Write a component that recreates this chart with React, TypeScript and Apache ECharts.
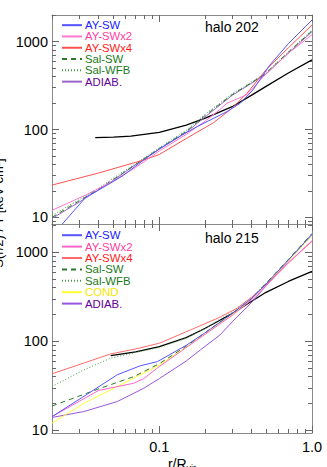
import React, { useEffect, useRef } from 'react';
import * as echarts from 'echarts';

const FONT = "'Liberation Sans', Arial, Helvetica, sans-serif";

// x range (r / R_vir) and y ranges of the two panels
const X_RANGE = [0.0198, 1.0];
const Y_RANGE_TOP = [8.4, 2014];
const Y_RANGE_BOT = [9.3, 2080];

const X_MAJOR = [0.1, 1];
const X_MINOR = [0.02, 0.03, 0.04, 0.05, 0.06, 0.07, 0.08, 0.09, 0.2, 0.3, 0.4, 0.5, 0.6, 0.7, 0.8, 0.9];
const Y_MAJOR = [10, 100, 1000];
const Y_MINOR = [9, 20, 30, 40, 50, 60, 70, 80, 90, 200, 300, 400, 500, 600, 700, 800, 900, 2000];

const TOP_LABEL = 'halo 202';
const BOT_LABEL = 'halo 215';

// ---- halo 202 (top panel) ----
const TOP_AYSW = [[0.023, 8.3], [0.033, 17], [0.045, 23], [0.058, 30], [0.079, 45], [0.1, 60], [0.14, 86], [0.177, 108], [0.277, 160], [0.339, 199], [0.41, 282], [0.53, 543], [0.7, 950], [1.0, 1766]];
const TOP_AYSWX2 = [[0.0198, 12], [0.033, 18], [0.05, 26], [0.07, 37], [0.1, 57], [0.15, 88], [0.2, 125], [0.25, 170], [0.277, 199], [0.376, 250], [0.48, 400], [0.7, 740], [1.0, 1200]];
const TOP_AYSWX4 = [[0.0198, 23.3], [0.04, 32], [0.079, 45], [0.1, 52], [0.15, 79], [0.227, 120], [0.3, 175], [0.376, 260], [0.5, 480], [0.7, 850], [1.0, 1550]];
const TOP_SALSW = [[0.0198, 10], [0.03, 15.5], [0.04, 21], [0.05, 27], [0.07, 40], [0.1, 61], [0.15, 95], [0.2, 145], [0.3, 250], [0.4, 340], [0.5, 440], [0.7, 760], [1.0, 1330]];
const TOP_SALWFB = [[0.0198, 10.5], [0.03, 16], [0.04, 21.5], [0.05, 28], [0.07, 41], [0.1, 62], [0.15, 98], [0.2, 150], [0.3, 255], [0.4, 345], [0.5, 445], [0.7, 770], [1.0, 1350]];
const TOP_ADIAB = [[0.0198, 9.7], [0.03, 15], [0.04, 20.5], [0.05, 26.5], [0.07, 40], [0.1, 60], [0.15, 93], [0.2, 140], [0.3, 245], [0.4, 335], [0.5, 430], [0.7, 740], [1.0, 1300]];
const TOP_MODEL = [[0.038, 81], [0.05, 82], [0.065, 84], [0.1, 93], [0.15, 112], [0.2, 135], [0.3, 182], [0.4, 245], [0.5, 310], [0.7, 440], [1.0, 620]];

// ---- halo 215 (bottom panel) ----
const BOT_AYSW = [[0.0198, 14.2], [0.032, 24], [0.053, 42], [0.075, 53], [0.097, 59], [0.15, 90], [0.2, 125], [0.3, 205], [0.4, 300], [0.5, 440], [0.7, 820], [1.0, 1600]];
const BOT_AYSWX2 = [[0.0198, 14.2], [0.04, 28], [0.068, 33.7], [0.079, 38], [0.1, 52], [0.15, 85], [0.2, 120], [0.3, 195], [0.4, 290], [0.5, 420], [0.7, 760], [1.0, 1350]];
const BOT_AYSWX4 = [[0.0198, 43], [0.048, 72], [0.07, 82], [0.1, 95], [0.16, 134], [0.24, 181], [0.323, 235], [0.4, 310], [0.5, 430], [0.7, 760], [1.0, 1330]];
const BOT_SALSW = [[0.0198, 18.7], [0.041, 29.6], [0.068, 40], [0.1, 56], [0.15, 88], [0.2, 125], [0.3, 205], [0.4, 300], [0.5, 450], [0.7, 830], [1.0, 1630]];
const BOT_SALWFB = [[0.0198, 31], [0.032, 47.6], [0.048, 64.5], [0.068, 74], [0.1, 85], [0.15, 108], [0.2, 140], [0.3, 215], [0.4, 310], [0.5, 450], [0.7, 820], [1.0, 1560]];
const BOT_COND = [[0.0198, 12], [0.032, 20], [0.053, 31], [0.1, 54], [0.15, 86], [0.2, 122], [0.3, 200], [0.4, 295], [0.5, 440], [0.7, 800], [1.0, 1550]];
const BOT_ADIAB = [[0.0198, 13.9], [0.032, 16.2], [0.053, 21], [0.079, 29.6], [0.1, 38], [0.15, 60], [0.186, 80], [0.25, 118], [0.3, 165], [0.4, 270], [0.5, 420], [0.7, 800], [1.0, 1570]];
const BOT_MODEL = [[0.048, 69], [0.07, 76], [0.1, 87], [0.15, 110], [0.2, 140], [0.3, 205], [0.4, 280], [0.5, 355], [0.7, 470], [1.0, 610]];

const TOP_NAMES = ['AY-SW', 'AY-SWx2', 'AY-SWx4', 'Sal-SW', 'Sal-WFB', 'ADIAB.'];
const BOT_NAMES = ['AY-SW', 'AY-SWx2', 'AY-SWx4', 'Sal-SW', 'Sal-WFB', 'COND', 'ADIAB.'];
const BOT_SUFFIX = ' #2';

const TEXT_COLOR: Record<string, string> = {
  'AY-SW': '#2020ff',
  'AY-SWx2': '#ff40a0',
  'AY-SWx4': '#ff1a1a',
  'Sal-SW': '#1a7a1a',
  'Sal-WFB': '#1a7a1a',
  'COND': '#f5e600',
  'ADIAB.': '#660099',
};

const LINE_STYLE_TOP: Record<string, any> = {
  'AY-SW': { color: '#5555ff', width: 1, type: 'solid' },
  'AY-SWx2': { color: '#ff77cc', width: 1, type: 'solid' },
  'AY-SWx4': { color: '#ff5050', width: 1, type: 'solid' },
  'Sal-SW': { color: '#2a7a2a', width: 1, type: [5, 4] },
  'Sal-WFB': { color: '#4a9a4a', width: 1, type: [1, 2] },
  'ADIAB.': { color: '#9966cc', width: 1, type: 'solid' },
};
const LINE_STYLE_BOT: Record<string, any> = {
  'AY-SW': { color: '#5555ff', width: 1, type: 'solid' },
  'AY-SWx2': { color: '#ff66cc', width: 1, type: 'solid' },
  'AY-SWx4': { color: '#ff6a6a', width: 1, type: 'solid' },
  'Sal-SW': { color: '#2a7a2a', width: 1, type: [5, 4] },
  'Sal-WFB': { color: '#4a9a4a', width: 1, type: [1, 2] },
  'COND': { color: '#ffff33', width: 1, type: 'solid' },
  'ADIAB.': { color: '#9955dd', width: 1, type: 'solid' },
};

const GRIDS = [
  { left: 52, top: 15, width: 260, height: 209 },
  { left: 52, top: 224, width: 260, height: 209 },
];

const AXIS_COLOR = '#8a8a8a';
const TICK_COLOR = '#666';

function xAxesFor(gridIndex: number, showLabel: boolean) {
  const base = {
    type: 'log', logBase: 10, gridIndex, min: X_RANGE[0], max: X_RANGE[1],
    splitLine: { show: false }, axisLine: { show: false, onZero: false },
  };
  const label = {
    show: showLabel, customValues: X_MAJOR, margin: 6, fontSize: 14.5, fontFamily: FONT, color: '#000',
    formatter: (v: number) => (v >= 1 ? '1.0' : String(v)),
  };
  return [
    { ...base, position: 'bottom', axisLine: { show: true, onZero: false, lineStyle: { color: AXIS_COLOR, width: 1 } },
      axisTick: { show: true, inside: true, length: 7, customValues: X_MAJOR, lineStyle: { color: TICK_COLOR } }, axisLabel: label },
    { ...base, position: 'bottom', axisTick: { show: true, inside: true, length: 4, customValues: X_MINOR, lineStyle: { color: TICK_COLOR } }, axisLabel: { show: false } },
    { ...base, position: 'top', axisLine: { show: true, onZero: false, lineStyle: { color: AXIS_COLOR, width: 1 } },
      axisTick: { show: true, inside: true, length: 7, customValues: X_MAJOR, lineStyle: { color: TICK_COLOR } }, axisLabel: { show: false } },
    { ...base, position: 'top', axisTick: { show: true, inside: true, length: 4, customValues: X_MINOR, lineStyle: { color: TICK_COLOR } }, axisLabel: { show: false } },
  ];
}

function yAxesFor(gridIndex: number, range: number[]) {
  const base = {
    type: 'log', logBase: 10, gridIndex, min: range[0], max: range[1],
    splitLine: { show: false }, axisLine: { show: false, onZero: false },
  };
  return [
    { ...base, position: 'left', axisLine: { show: true, onZero: false, lineStyle: { color: AXIS_COLOR, width: 1 } },
      axisTick: { show: true, inside: true, length: 7, customValues: Y_MAJOR, lineStyle: { color: TICK_COLOR } },
      axisLabel: { show: true, customValues: Y_MAJOR, margin: 4, fontSize: 14.5, fontFamily: FONT, color: '#000', formatter: (v: number) => String(Math.round(v)) } },
    { ...base, position: 'left', axisTick: { show: true, inside: true, length: 4, customValues: Y_MINOR, lineStyle: { color: TICK_COLOR } }, axisLabel: { show: false } },
    { ...base, position: 'right', axisLine: { show: true, onZero: false, lineStyle: { color: AXIS_COLOR, width: 1 } },
      axisTick: { show: true, inside: true, length: 7, customValues: Y_MAJOR, lineStyle: { color: TICK_COLOR } }, axisLabel: { show: false } },
    { ...base, position: 'right', axisTick: { show: true, inside: true, length: 4, customValues: Y_MINOR, lineStyle: { color: TICK_COLOR } }, axisLabel: { show: false } },
  ];
}

function lineSeries(name: string, data: number[][], axisIdx: number, lineStyle: any) {
  return {
    type: 'line', name, data, xAxisIndex: axisIdx, yAxisIndex: axisIdx,
    symbol: 'none', showSymbol: false, lineStyle, color: lineStyle.color, itemStyle: { color: lineStyle.color },
    clip: true, silent: true, z: 2,
  };
}

function legendFor(names: string[], suffix: string, top: number, size: number) {
  return {
    orient: 'vertical', left: 61, top, padding: 0, itemGap: 0, itemWidth: 20, itemHeight: 6,
    selectedMode: false,
    itemStyle: { opacity: 0 },
    formatter: (n: string) => n.replace(BOT_SUFFIX, ''),
    textStyle: { fontSize: size, fontFamily: FONT, lineHeight: size, padding: [0, 0, 0, -2] },
    data: names.map((n) => ({ name: n + suffix, textStyle: { color: TEXT_COLOR[n] } })),
  };
}

export default function App() {
  const ref = useRef<HTMLDivElement>(null);

  useEffect(() => {
    if (!ref.current) return;
    const chart = echarts.init(ref.current, undefined, { renderer: 'svg' });

    const topSeries = [
      lineSeries('model 202', TOP_MODEL, 0, { color: '#000', width: 1.3, type: 'solid' }),
      lineSeries('ADIAB.', TOP_ADIAB, 0, LINE_STYLE_TOP['ADIAB.']),
      lineSeries('Sal-WFB', TOP_SALWFB, 0, LINE_STYLE_TOP['Sal-WFB']),
      lineSeries('Sal-SW', TOP_SALSW, 0, LINE_STYLE_TOP['Sal-SW']),
      lineSeries('AY-SWx4', TOP_AYSWX4, 0, LINE_STYLE_TOP['AY-SWx4']),
      lineSeries('AY-SWx2', TOP_AYSWX2, 0, LINE_STYLE_TOP['AY-SWx2']),
      lineSeries('AY-SW', TOP_AYSW, 0, LINE_STYLE_TOP['AY-SW']),
    ];
    const botSeries = [
      lineSeries('model 215', BOT_MODEL, 4, { color: '#000', width: 1.3, type: 'solid' }),
      lineSeries('ADIAB.' + BOT_SUFFIX, BOT_ADIAB, 4, LINE_STYLE_BOT['ADIAB.']),
      lineSeries('COND' + BOT_SUFFIX, BOT_COND, 4, LINE_STYLE_BOT['COND']),
      lineSeries('Sal-WFB' + BOT_SUFFIX, BOT_SALWFB, 4, LINE_STYLE_BOT['Sal-WFB']),
      lineSeries('Sal-SW' + BOT_SUFFIX, BOT_SALSW, 4, LINE_STYLE_BOT['Sal-SW']),
      lineSeries('AY-SWx4' + BOT_SUFFIX, BOT_AYSWX4, 4, LINE_STYLE_BOT['AY-SWx4']),
      lineSeries('AY-SWx2' + BOT_SUFFIX, BOT_AYSWX2, 4, LINE_STYLE_BOT['AY-SWx2']),
      lineSeries('AY-SW' + BOT_SUFFIX, BOT_AYSW, 4, LINE_STYLE_BOT['AY-SW']),
    ];

    chart.setOption({
      animation: false,
      backgroundColor: '#fff',
      grid: GRIDS.map((g) => ({ ...g, containLabel: false })),
      xAxis: [...xAxesFor(0, false), ...xAxesFor(1, true)],
      yAxis: [...yAxesFor(0, Y_RANGE_TOP), ...yAxesFor(1, Y_RANGE_BOT)],
      title: [
        { text: TOP_LABEL, left: 205, top: 20, padding: 0, textStyle: { fontSize: 14, fontWeight: 'normal', fontFamily: FONT, color: '#000' } },
        { text: BOT_LABEL, left: 205, top: 231, padding: 0, textStyle: { fontSize: 14, fontWeight: 'normal', fontFamily: FONT, color: '#000' } },
      ],
      legend: [
        legendFor(TOP_NAMES, '', 19.5, 11.3),
        legendFor(BOT_NAMES, BOT_SUFFIX, 229.5, 11.4),
      ],
      graphic: [
        {
          type: 'text', x: 5, y: 213, rotation: Math.PI / 2, silent: true,
          style: { text: 'S(r/2) / T [keV cm²]', font: `13px ${FONT}`, align: 'center', verticalAlign: 'bottom', fill: '#000' },
        },
        {
          type: 'text', x: 182, y: 455, silent: true,
          style: {
            text: '{a|r/R}{b|vir}', align: 'center', verticalAlign: 'top', fill: '#000',
            rich: { a: { font: `14px ${FONT}`, fill: '#000' }, b: { font: `9px ${FONT}`, fill: '#000', padding: [8, 0, 0, 0] } },
          },
        },
      ],
      series: [...topSeries, ...botSeries],
    });

    return () => chart.dispose();
  }, []);

  return (
    <div
      ref={ref}
      style={{ position: 'absolute', left: 0, top: 0, width: 327, height: 467, background: '#fff' }}
    />
  );
}
